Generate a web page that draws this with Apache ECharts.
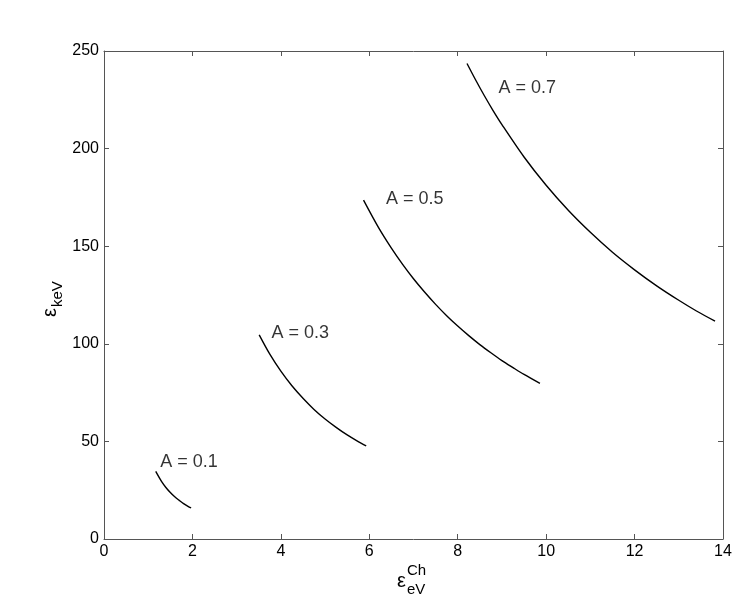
<!DOCTYPE html>
<html>
<head>
<meta charset="utf-8">
<script src="https://cdn.jsdelivr.net/npm/echarts@6/dist/echarts.min.js"></script>
<style>
  html, body { margin: 0; padding: 0; background: #fff; }
  #chart { width: 739px; height: 603px; }
</style>
</head>
<body>
<div id="chart"></div>
<script>
// curve points: [eps_eV^Ch, eps_keV]
const curveA01 = [[1.17, 34.6], [1.3, 29.5], [1.4, 26.4], [1.5, 23.8], [1.6, 21.6], [1.7, 19.8], [1.8, 18.1], [1.9, 16.7], [1.97, 15.9]]
const curveA03 = [[3.51, 104.6], [3.75, 94.7], [4.0, 86.0], [4.25, 78.5], [4.5, 72.1], [4.75, 66.4], [5.0, 61.5], [5.25, 57.2], [5.5, 53.3], [5.75, 49.9], [5.93, 47.7]]
const curveA05 = [[5.87, 173.6], [6.2, 159.9], [6.5, 149.0], [6.75, 140.8], [7.0, 133.3], [7.25, 126.5], [7.5, 120.2], [7.75, 114.4], [8.0, 109.1],
  [8.25, 104.2], [8.5, 99.6], [8.75, 95.4], [9.0, 91.4], [9.25, 87.8], [9.5, 84.3], [9.86, 79.7]]
const curveA07 = [[8.21, 243.6], [8.4, 235.4], [8.6, 227.2], [8.8, 219.5], [9.0, 212.3], [9.5, 195.7], [10.0, 181.2], [10.5, 168.4], [11.0, 157.1],
  [11.5, 146.9], [12.0, 137.9], [12.5, 129.7], [13.0, 122.3], [13.4, 116.8], [13.82, 111.6]]
const curveNames = ['A = 0.1', 'A = 0.3', 'A = 0.5', 'A = 0.7']
// where each annotation starts (left edge, vertical middle)
const labelPos = [[1.27, 39.6], [3.79, 105.4], [6.38, 174.2], [8.92, 230.8]]
const xTicks = { min: 0, max: 14, interval: 2 }
const yTicks = { min: 0, max: 250, interval: 50 }

const axisColor = '#555'
const font = 'Liberation Sans, Arial, Helvetica, sans-serif'

const chart = echarts.init(document.getElementById('chart'), null, { renderer: 'canvas' })

const baseAxis = {
  axisLine: { show: true, onZero: false, lineStyle: { color: axisColor, width: 1 } },
  axisTick: { show: true, inside: true, length: 5, lineStyle: { color: axisColor } },
  splitLine: { show: false },
}

const curves = [curveA01, curveA03, curveA05, curveA07]

const option = {
  animation: false,
  backgroundColor: '#fff',
  grid: { left: 104, right: 16, top: 51, bottom: 64, containLabel: false },
  xAxis: [
    {
      ...baseAxis,
      type: 'value',
      position: 'bottom',
      ...xTicks,
      axisLabel: { color: '#000', fontSize: 16, fontFamily: font, margin: 5 },
    },
    {
      ...baseAxis,
      type: 'value',
      position: 'top',
      ...xTicks,
      axisLabel: { show: false },
    },
  ],
  yAxis: [
    {
      ...baseAxis,
      type: 'value',
      position: 'left',
      ...yTicks,
      axisLabel: { color: '#000', fontSize: 16, fontFamily: font, margin: 5 },
    },
    {
      ...baseAxis,
      type: 'value',
      position: 'right',
      ...yTicks,
      axisLabel: { show: false },
    },
  ],
  series: [
    ...curves.map((d, i) => ({
      name: curveNames[i],
      type: 'line',
      data: d,
      smooth: 0.3,
      showSymbol: false,
      lineStyle: { color: '#000', width: 1.4 },
    })),
    {
      type: 'scatter',
      symbolSize: 0,
      data: labelPos.map((p, i) => ({ value: p, name: curveNames[i] })),
      label: {
        show: true,
        position: 'right',
        distance: 0,
        formatter: (p) => p.name,
        color: '#000',
        fontSize: 18,
        fontFamily: font,
      },
    },
  ],
  graphic: [
    // x axis title: eps with sub eV and sup Ch
    { type: 'text', left: 397, top: 571, style: { text: 'ε', fontSize: 20, fontFamily: font, fill: '#000' } },
    { type: 'text', left: 407, top: 563, style: { text: 'Ch', fontSize: 15, fontFamily: font, fill: '#000' } },
    { type: 'text', left: 407, top: 582, style: { text: 'eV', fontSize: 15, fontFamily: font, fill: '#000' } },
    // y axis title: eps with sub keV, rotated
    {
      type: 'group',
      x: 40,
      y: 317,
      rotation: Math.PI / 2,
      children: [
        { type: 'text', x: 0, y: 0, style: { text: 'ε', fontSize: 20, fontFamily: font, fill: '#000' } },
        { type: 'text', x: 10, y: 10, style: { text: 'keV', fontSize: 15, fontFamily: font, fill: '#000' } },
      ],
    },
  ],
}

chart.setOption(option)
window.onresize = function () {
  chart.resize()
}
</script>
</body>
</html>
